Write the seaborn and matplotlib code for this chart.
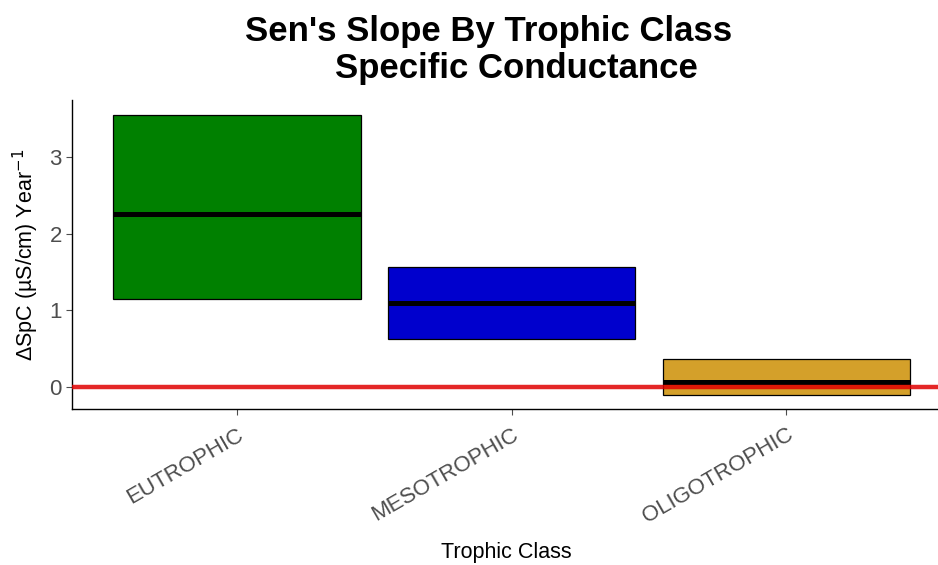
import numpy as np
import pandas as pd
import matplotlib
matplotlib.use('Agg')
import matplotlib.pyplot as plt
import seaborn as sns

classes = ['EUTROPHIC', 'MESOTROPHIC', 'OLIGOTROPHIC']
q1 = [1.15, 0.62, -0.11]
medians = [2.26, 1.09, 0.065]
q3 = [3.55, 1.57, 0.36]
colors = ['#008000', '#0000CD', '#D4A02A']

sns.set_style('white')
plt.rcParams['font.family'] = ['Liberation Sans', 'DejaVu Sans']

# five values per class so that the computed quartiles land on q1 / median / q3
rows = []
for i in range(len(classes)):
    for v in [q1[i], q1[i], medians[i], q3[i], q3[i]]:
        rows.append({'Trophic Class': classes[i], 'slope': v})
df = pd.DataFrame(rows)

fig = plt.figure(figsize=(9.38, 5.65), dpi=100)
ax = fig.add_axes([0.077, 0.276, 0.925, 0.547])
sns.boxplot(data=df, x='Trophic Class', y='slope', hue='Trophic Class',
            palette=colors, saturation=1, width=0.9, whis=0,
            showcaps=False, showfliers=False, legend=False,
            linecolor='black', linewidth=0.9,
            medianprops={'linewidth': 3.6, 'color': 'black'},
            whiskerprops={'linewidth': 0}, ax=ax)
ax.axhline(0, color='#E00000', lw=3.2, alpha=0.85, zorder=5)

ax.set_xlim(-0.6, 2.56)
ax.set_ylim(-0.29, 3.75)
ax.set_yticks([0, 1, 2, 3])
ax.tick_params(axis='both', colors='#4D4D4D', labelsize=16, length=4, width=0.8,
               left=True, bottom=True)
ax.tick_params(axis='x', pad=7)
plt.setp(ax.get_xticklabels(), rotation=30, ha='right', rotation_mode='anchor')
for s in ['top', 'right']:
    ax.spines[s].set_visible(False)
for s in ['left', 'bottom']:
    ax.spines[s].set_color('black')
    ax.spines[s].set_linewidth(1.0)

ax.set_xlabel('Trophic Class', fontsize=15.5, labelpad=10, color='black')
ax.set_ylabel('ΔSpC (µS/cm) Year$^{-1}$', fontsize=15.5, color='black', labelpad=6)

# title lines (second line sits a little right of the first, as in the original)
fig.text(489 / 938, 0.928, "Sen's Slope By Trophic Class", fontsize=25,
         fontweight='bold', ha='center', va='baseline', color='black')
fig.text(516 / 938, 0.862, "Specific Conductance", fontsize=25,
         fontweight='bold', ha='center', va='baseline', color='black')

fig.savefig('out.png', dpi=100)
